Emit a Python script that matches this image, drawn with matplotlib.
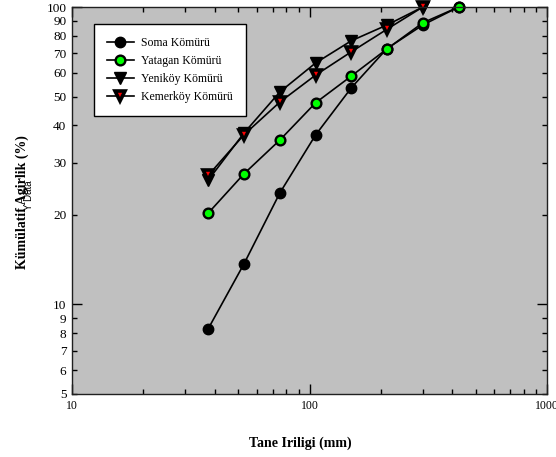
import matplotlib
matplotlib.use("Agg")
import matplotlib.pyplot as plt

# sieve sizes (mm) and cumulative passing (%)
sizes = [37.5, 53, 75, 106, 150, 212, 300, 425]
soma = [8.3, 13.7, 23.7, 37.1, 53.5, 72.5, 87.0, 100]
yatagan = [20.3, 27.5, 35.7, 47.6, 58.6, 72.3, 88.5, 100]
yenikoy = [26.2, 37.7, 51.8, 64.8, 77.0, 87.0, 100]
kemerkoy = [27.2, 37.2, 47.9, 59.0, 70.7, 84.2, 100]

y_major = [10, 100]
y_minor = [5, 6, 7, 8, 9, 20, 30, 40, 50, 60, 70, 80, 90]
x_major = [10, 100, 1000]
x_minor = [20, 30, 40, 50, 60, 70, 80, 90, 200, 300, 400, 500, 600, 700, 800, 900]

serif = ["Liberation Serif", "DejaVu Serif"]
plt.rcParams["font.family"] = serif

fig = plt.figure(figsize=(5.56, 4.57), dpi=100)
ax = fig.add_axes([72 / 556, 1 - 394 / 457, 475 / 556, 387 / 457])
ax.set_facecolor("#c0c0c0")

lw = 1.2
ax.plot(sizes, soma, color="black", lw=lw, marker="o", ms=7.5, mfc="black",
        mec="black", clip_on=False, label="Soma Kömürü")
ax.plot(sizes, yatagan, color="black", lw=lw, marker="o", ms=7, mfc="#00ff00",
        mec="black", mew=1.7, clip_on=False, label="Yatagan Kömürü")
ax.plot(sizes[:len(yenikoy)], yenikoy, color="black", lw=lw, marker="v", ms=8.5,
        mfc="black", mec="black", clip_on=False, label="Yeniköy Kömürü")
ax.plot(sizes[:len(kemerkoy)], kemerkoy, color="black", lw=lw, marker="v", ms=7,
        mfc="red", mec="black", mew=2.6, clip_on=False, label="Kemerköy Kömürü")

ax.set_xscale("log")
ax.set_yscale("log")
ax.set_xlim(10, 1000)
ax.set_ylim(5, 100)

ax.set_xticks(x_major)
ax.set_xticklabels([str(v) for v in x_major])
ax.set_xticks(x_minor, minor=True)
ax.set_xticklabels([], minor=True)
ax.set_yticks(y_major)
ax.set_yticklabels([str(v) for v in y_major])
ax.set_yticks(y_minor, minor=True)
ax.set_yticklabels([str(v) for v in y_minor], minor=True)

ax.tick_params(which="both", direction="in", top=True, right=True, width=1)
ax.tick_params(which="major", length=7)
ax.tick_params(which="minor", length=3.5)
ax.tick_params(axis="y", which="both", labelsize=9.5, pad=4)
ax.tick_params(axis="x", which="both", labelsize=8.5, pad=4)
for sp in ax.spines.values():
    sp.set_linewidth(1)
    sp.set_color("#202020")

leg = ax.legend(loc="upper left", bbox_to_anchor=(0.046, 0.956), borderaxespad=0,
                fontsize=8.5, fancybox=False, framealpha=1, edgecolor="black",
                handlelength=2.3, handletextpad=0.6, labelspacing=0.5,
                borderpad=1.1)
leg.get_frame().set_linewidth(1)

fig.text(300 / 556, 1 - 443 / 457, "Tane Iriligi (mm)", ha="center", va="center",
         fontsize=10, fontweight="bold")
fig.text(22 / 556, 1 - 202 / 457, "Kümülatif Agirlik (%)", ha="center", va="center",
         rotation=90, fontsize=10, fontweight="bold")
fig.text(29 / 556, 1 - 195 / 457, "Y Data", ha="center", va="center",
         rotation=90, fontsize=7, family=["Liberation Sans", "DejaVu Sans"])

fig.savefig("out.png", dpi=100)
